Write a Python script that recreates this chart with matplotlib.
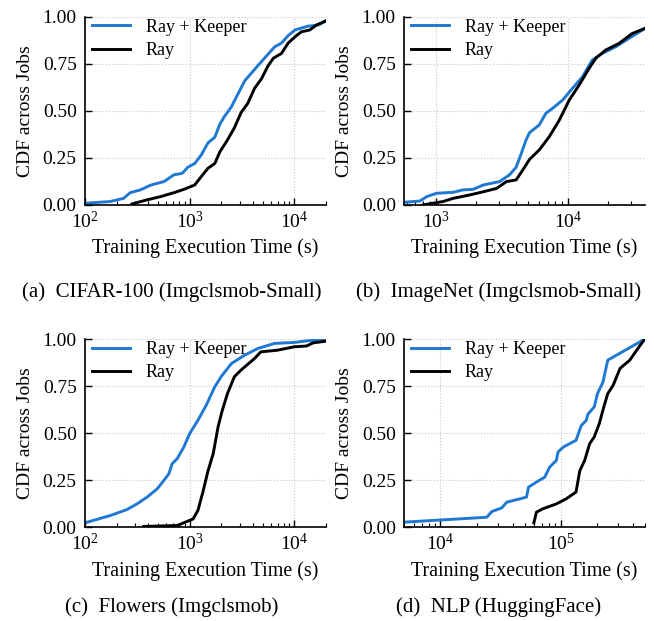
import numpy as np
import matplotlib
matplotlib.use("Agg")
import matplotlib.pyplot as plt
from matplotlib.ticker import LogLocator, FixedLocator, FormatStrFormatter, NullFormatter

plt.rcParams['font.family'] = ['Liberation Serif', 'DejaVu Serif']
plt.rcParams['mathtext.fontset'] = 'custom'
plt.rcParams['mathtext.rm'] = 'Liberation Serif'
plt.rcParams['mathtext.it'] = 'Liberation Serif:italic'
plt.rcParams['font.size'] = 14

# values (time in s, cdf)
# (a) CIFAR-100
a_keeper_t = [100, 174, 234, 270, 339, 424, 568, 707, 850, 960, 1118, 1290, 1500, 1740, 1950,
              2150, 2500, 2900, 3370, 4180, 5200, 6500, 7550, 8750, 10200, 13500, 17000, 20400]
a_keeper_y = [0.009, 0.018, 0.035, 0.065, 0.08, 0.105, 0.124, 0.16, 0.168, 0.20, 0.22, 0.265, 0.33,
              0.36, 0.43, 0.47, 0.52, 0.59, 0.66, 0.72, 0.78, 0.84, 0.86, 0.90, 0.93, 0.95, 0.956, 0.98]
a_ray_t = [281, 392, 527, 707, 884, 1118, 1290, 1500, 1740, 1950, 2300, 2680, 3100, 3600, 4180,
           4860, 5630, 6330, 7550, 8750, 10200, 11700, 14100, 16300, 20400]
a_ray_y = [0.005, 0.027, 0.044, 0.065, 0.083, 0.106, 0.15, 0.195, 0.22, 0.283, 0.345, 0.41, 0.49,
           0.54, 0.62, 0.67, 0.74, 0.78, 0.805, 0.86, 0.894, 0.92, 0.93, 0.956, 0.98]

# (b) ImageNet
b_keeper_t = [575, 759, 850, 1010, 1350, 1600, 1910, 2280, 3030, 3600, 4040, 4400, 4800, 5100,
              6040, 6780, 7610, 9100, 10780, 12800, 15200, 18100, 22800, 28800, 38000]
b_keeper_y = [0.014, 0.021, 0.044, 0.062, 0.067, 0.08, 0.083, 0.106, 0.124, 0.16, 0.20, 0.27, 0.345,
              0.384, 0.425, 0.487, 0.513, 0.558, 0.62, 0.68, 0.77, 0.805, 0.84, 0.885, 0.938]
b_ray_t = [800, 1130, 1350, 1800, 2280, 2880, 3410, 4040, 4540, 5100, 6040, 7200, 8560, 10200,
           12100, 14400, 16200, 19200, 24200, 30500, 38000]
b_ray_y = [0.0, 0.018, 0.035, 0.053, 0.07, 0.088, 0.124, 0.133, 0.186, 0.242, 0.292, 0.363, 0.45,
           0.558, 0.637, 0.726, 0.78, 0.823, 0.858, 0.911, 0.938]

# (c) Flowers
c_keeper_t = [100, 120, 174, 252, 314, 392, 490, 568, 633, 680, 760, 880, 1000, 1200, 1440, 1740,
              2000, 2510, 3370, 4490, 6500, 10000, 13500, 20400]
c_keeper_y = [0.023, 0.036, 0.062, 0.094, 0.124, 0.16, 0.204, 0.249, 0.284, 0.337, 0.364, 0.426,
              0.497, 0.568, 0.648, 0.746, 0.80, 0.87, 0.915, 0.95, 0.977, 0.982, 0.991, 0.998]
c_ray_t = [363, 760, 910, 1080, 1200, 1340, 1500, 1680, 1870, 2050, 2300, 2680, 3100, 4180, 4800,
           6950, 10000, 13100, 15200, 20400]
c_ray_y = [0.004, 0.009, 0.027, 0.044, 0.089, 0.187, 0.30, 0.39, 0.533, 0.62, 0.71, 0.80, 0.835,
           0.897, 0.932, 0.941, 0.959, 0.963, 0.98, 0.989]

# (d) NLP
d_keeper_t = [5000, 24300, 26700, 32400, 35600, 52000, 54000, 62800, 73600, 81000, 92000, 95000,
              105000, 134000, 148000, 163000, 168000, 190000, 202000, 224000, 246000, 500000]
d_keeper_y = [0.027, 0.053, 0.083, 0.103, 0.133, 0.16, 0.213, 0.24, 0.266, 0.32, 0.355, 0.40, 0.426,
              0.462, 0.54, 0.568, 0.60, 0.64, 0.71, 0.77, 0.888, 1.0]
d_ray_t = [59800, 62800, 71000, 92000, 111000, 134000, 144000, 158000, 174000, 190000, 209000,
           230000, 246000, 273000, 311000, 375000, 449000, 500000]
d_ray_y = [0.023, 0.08, 0.098, 0.124, 0.151, 0.187, 0.30, 0.355, 0.444, 0.48, 0.55, 0.648, 0.71,
           0.755, 0.844, 0.888, 0.96, 1.0]

panels = [
    ("(a)  CIFAR-100 (Imgclsmob-Small)", (100, 2e4), a_keeper_t, a_keeper_y, a_ray_t, a_ray_y),
    ("(b)  ImageNet (Imgclsmob-Small)", (575, 3.8e4), b_keeper_t, b_keeper_y, b_ray_t, b_ray_y),
    ("(c)  Flowers (Imgclsmob)", (100, 2e4), c_keeper_t, c_keeper_y, c_ray_t, c_ray_y),
    ("(d)  NLP (HuggingFace)", (5000, 5e5), d_keeper_t, d_keeper_y, d_ray_t, d_ray_y),
]

fig = plt.figure(figsize=(6.54, 6.21), dpi=100)
lefts = [0.130, 0.618]
bottoms = [0.670, 0.151]
cap_x = [0.262, 0.762]
cap_y = [0.513, 0.006]
blue = '#1f78d1'

for i, (caption, xlim, kt, ky, rt, ry) in enumerate(panels):
    row, col = divmod(i, 2)
    ax = fig.add_axes([lefts[col], bottoms[row], 0.368, 0.303])
    ax.plot(kt, ky, color=blue, lw=2.1, label='Ray + Keeper')
    ax.plot(rt, ry, color='black', lw=2.1, label='Ray')
    ax.set_xscale('log')
    ax.set_xlim(*xlim)
    ax.set_ylim(0, 1.0)
    ax.yaxis.set_major_locator(FixedLocator([0, 0.25, 0.5, 0.75, 1.0]))
    ax.yaxis.set_major_formatter(FormatStrFormatter('%.2f'))
    ax.xaxis.set_major_locator(LogLocator(base=10))
    ax.xaxis.set_minor_locator(LogLocator(base=10, subs=np.arange(2, 10)))
    ax.xaxis.set_minor_formatter(NullFormatter())
    ax.tick_params(which='major', direction='in', length=5, width=1, labelsize=14)
    ax.tick_params(which='minor', direction='in', length=3, width=0.8)
    ax.tick_params(axis='x', pad=4)
    ax.tick_params(axis='y', pad=6)
    for s in ['top', 'right']:
        ax.spines[s].set_visible(False)
    for s in ['left', 'bottom']:
        ax.spines[s].set_linewidth(1.2)
    ax.grid(True, which='major', linestyle=':', color='#c8c8c8', lw=0.8)
    ax.set_axisbelow(True)
    ax.set_xlabel('Training Execution Time (s)', fontsize=14.4, labelpad=5)
    ax.set_ylabel('CDF across Jobs', fontsize=14, labelpad=6)
    # legend sits a few pixels right of the y spine, like the reference
    ax.legend(loc='upper left', bbox_to_anchor=(0.02, 1.0), frameon=False, fontsize=13,
              handlelength=2.1, borderaxespad=0.0, labelspacing=0.35, borderpad=0.1,
              handletextpad=0.9)
    fig.text(cap_x[col], cap_y[row], caption, ha='center', va='bottom', fontsize=15)

fig.savefig('out.png', dpi=100)
